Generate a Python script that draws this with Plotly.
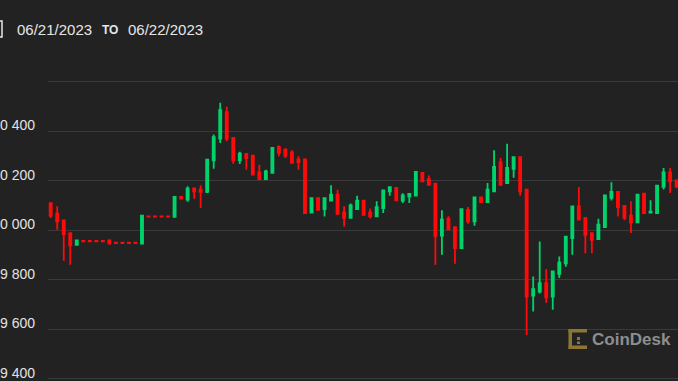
import pandas as pd
import plotly.graph_objects as go

# ---- data (15-minute BTC candles, 06/21/2023 00:00 -> 06/22/2023 00:00) ----
open_ = [30110, 30067, 30040, 29989, 29941, 29957, 29957, 29957, 29957, 29959,
         29950, 29950, 29950, 29950, 29947, 30056, 30056, 30056, 30056, 30054,
         30135, 30124, 30168, 30164, 30155, 30283, 30370, 30477, 30373, 30283,
         30309, 30302, 30234, 30207, 30232, 30337, 30326, 30315, 30286, 30286,
         30072, 30130, 30086, 30120, 30144, 30072, 30050, 30086, 30120, 30072,
         30056, 30090, 30157, 30171, 30120, 30137, 30140, 30232, 30207, 30188,
         29979, 30046, 30013, 29928, 30083, 30036, 30133, 30114, 30157, 30275,
         30191, 30248, 30295, 30164, 29737, 29753, 29787, 29733, 29824, 29867,
         29969, 30097, 30050, 29989, 29965, 30013, 30131, 30155, 30099, 30059,
         30032, 30148, 30072, 30070, 30176, 30234, 30202]
high = [30112, 30097, 30042, 29990, 29960, 29957, 29957, 29957, 29957, 29959,
        29950, 29950, 29950, 29950, 30059, 30056, 30056, 30056, 30056, 30135,
        30135, 30178, 30174, 30182, 30288, 30387, 30515, 30499, 30375, 30317,
        30312, 30305, 30265, 30245, 30335, 30342, 30331, 30323, 30299, 30290,
        30132, 30132, 30132, 30182, 30164, 30097, 30108, 30140, 30122, 30088,
        30117, 30163, 30178, 30173, 30150, 30148, 30238, 30234, 30221, 30190,
        30081, 30057, 30015, 30088, 30094, 30135, 30135, 30191, 30323, 30292,
        30350, 30297, 30297, 30166, 29814, 29955, 29843, 29836, 29894, 29977,
        30099, 30175, 30052, 29991, 30047, 30143, 30194, 30157, 30101, 30117,
        30146, 30150, 30121, 30182, 30252, 30252, 30204]
low = [30050, 30002, 29877, 29861, 29940, 29956, 29956, 29956, 29956, 29947,
       29949, 29949, 29949, 29949, 29947, 30055, 30055, 30055, 30055, 30054,
       30128, 30115, 30128, 30090, 30151, 30249, 30353, 30360, 30269, 30268,
       30245, 30221, 30207, 30205, 30230, 30299, 30292, 30269, 30245, 30070,
       30070, 30080, 30056, 30118, 30065, 30016, 30048, 30084, 30060, 30048,
       30054, 30070, 30140, 30121, 30110, 30110, 30138, 30196, 30182, 29861,
       29901, 30000, 29865, 29926, 30027, 30019, 30112, 30112, 30155, 30182,
       30189, 30212, 30140, 29578, 29672, 29745, 29708, 29679, 29808, 29853,
       29901, 30041, 29908, 29908, 29963, 30011, 30120, 30056, 30041, 29989,
       30030, 30068, 30070, 30068, 30165, 30151, 30170]
close = [30060, 30036, 29985, 29939, 29959, 29956, 29956, 29956, 29956, 29947,
         29949, 29949, 29949, 29949, 30059, 30055, 30055, 30055, 30055, 30135,
         30128, 30168, 30157, 30155, 30285, 30376, 30485, 30370, 30283, 30310,
         30292, 30225, 30207, 30238, 30333, 30313, 30302, 30272, 30275, 30070,
         30130, 30083, 30130, 30144, 30067, 30050, 30101, 30120, 30063, 30056,
         30094, 30161, 30174, 30121, 30141, 30147, 30236, 30198, 30184, 29978,
         30043, 30005, 29928, 30086, 30036, 30133, 30114, 30164, 30256, 30184,
         30252, 30295, 30157, 29733, 29763, 29787, 29730, 29834, 29870, 29975,
         30097, 30043, 29982, 29962, 30023, 30141, 30155, 30094, 30050, 30032,
         30144, 30070, 30075, 30180, 30234, 30198, 30178]
times = pd.date_range("2023-06-21 00:00", periods=len(open_), freq="15min")

y_ticks = [29400, 29600, 29800, 30000, 30200, 30400, 30600]
y_tick_labels = ["29 400", "29 600", "29 800", "30 000", "30 200", "30 400", ""]

date_from = "06/21/2023"
date_to = "06/22/2023"

# ---- layout geometry ----
W, H = 678, 381
ML, MR, MT, MB = 48, 0, 60, 0
PW, PH = W - ML - MR, H - MT - MB


def px(x):
    return (x - ML) / PW


def py(y):
    return (H - MB - y) / PH


GREEN = "#00d36b"
RED = "#ff0a0a"
BG = "#222222"

fig = go.Figure()
fig.add_trace(go.Candlestick(
    x=times, open=open_, high=high, low=low, close=close,
    increasing=dict(line=dict(color=GREEN, width=1.8), fillcolor=GREEN),
    decreasing=dict(line=dict(color=RED, width=1.8), fillcolor=RED),
    whiskerwidth=0,
    hoverinfo="x+y",
))

x0 = times[0] - pd.Timedelta(minutes=15 * 0.414)
x1 = times[0] + pd.Timedelta(minutes=15 * 96.21)

fig.update_layout(
    width=W, height=H,
    margin=dict(l=ML, r=MR, t=MT, b=MB, pad=0),
    paper_bgcolor=BG, plot_bgcolor=BG,
    showlegend=False,
    boxgap=0.55,
    font=dict(family="Liberation Sans, Arial, sans-serif", color="#e0e0e0"),
    xaxis=dict(range=[x0, x1], showgrid=False, zeroline=False, showticklabels=False,
               showline=False, ticks="", rangeslider=dict(visible=False), fixedrange=True),
    yaxis=dict(range=[29391.9, 30687.6], tickvals=y_ticks, ticktext=y_tick_labels,
               showgrid=True, gridcolor="#3a3a3a", gridwidth=1.2, zeroline=False,
               showline=False, ticks="", automargin=False,
               tickfont=dict(size=14, color="#e2e2e2"),
               ticklabelstandoff=12, ticklabelshift=-6, fixedrange=True),
)

annotations = [
    dict(text=date_from, x=px(15), y=py(29), xanchor="left", yanchor="middle",
         font=dict(size=15, color="#e6e6e6")),
    dict(text="<b>TO</b>", x=px(100), y=py(29.5), xanchor="left", yanchor="middle",
         font=dict(size=12, color="#e6e6e6")),
    dict(text=date_to, x=px(126), y=py(29), xanchor="left", yanchor="middle",
         font=dict(size=15, color="#e6e6e6")),
    dict(text="<b>CoinDesk</b>", x=px(590), y=py(339.5), xanchor="left", yanchor="middle",
         font=dict(size=17, color="#8e8e8e")),
]
for a in annotations:
    a.update(xref="paper", yref="paper", showarrow=False)
fig.update_layout(annotations=annotations)

GOLD = "#8c7633"
shapes = [
    # calendar icon edge (cut by left border)
    dict(type="rect", x0=px(-10), x1=px(2), y0=py(37), y1=py(21),
         line=dict(color="#e6e6e6", width=1.5)),
    # CoinDesk logo mark
    dict(type="rect", x0=px(568.5), x1=px(572), y0=py(349), y1=py(329),
         fillcolor=GOLD, line=dict(width=0)),
    dict(type="rect", x0=px(568.5), x1=px(587), y0=py(332.5), y1=py(329),
         fillcolor=GOLD, line=dict(width=0)),
    dict(type="rect", x0=px(568.5), x1=px(587), y0=py(349), y1=py(345.5),
         fillcolor=GOLD, line=dict(width=0)),
    dict(type="rect", x0=px(577), x1=px(580), y0=py(340), y1=py(337),
         fillcolor=GOLD, line=dict(width=0)),
    dict(type="rect", x0=px(577), x1=px(580), y0=py(344), y1=py(341.5),
         fillcolor=GOLD, line=dict(width=0)),
]
for s in shapes:
    s.update(xref="paper", yref="paper", layer="above")
fig.update_layout(shapes=shapes)

fig.write_html(
    "out.html",
    config=dict(displayModeBar=False),
    post_script="document.body.style.margin='0';document.body.style.background='#222222';",
)
